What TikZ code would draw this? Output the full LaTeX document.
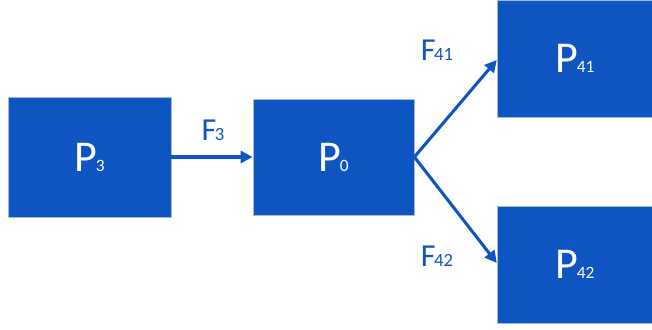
\documentclass[tikz,border=0pt]{standalone}
\usepackage{fontspec}
\setmainfont{Carlito}
\usetikzlibrary{arrows.meta}
\definecolor{boxblue}{HTML}{0E55C1}
\newcommand{\bigsub}[2]{#1\kern-1pt{\fontsize{14}{14}\selectfont #2}}
\newcommand{\smallsub}[2]{#1\kern-1pt{\fontsize{13}{13}\selectfont #2}}
\tikzset{
  block/.style={fill=boxblue, draw=boxblue!40, line width=0.3pt, inner sep=0pt,
    text=white, font=\fontsize{33}{33}\selectfont},
  flow/.style={draw=boxblue, line width=2.3pt, -{Triangle[length=9pt,width=9pt]}},
  flowlabel/.style={text=boxblue, font=\fontsize{24}{24}\selectfont}
}
\begin{document}
\begin{tikzpicture}[x=0.75pt,y=-0.75pt]
    \useasboundingbox (0,0) rectangle (652,329);
    \node[block, minimum width=122pt, minimum height=90pt] (p3) at (89.5,157) {\smallsub{P}{3}};
    \node[block, minimum width=121pt, minimum height=87pt] (p0) at (333.5,157) {\smallsub{P}{0}};
    \node[block, minimum width=117pt, minimum height=88pt] (p41) at (575,58.5) {\smallsub{P}{41}};
    \node[block, minimum width=117pt, minimum height=88pt] (p42) at (575,264.5) {\smallsub{P}{42}};
    \draw[flow] (p3.east) -- (p0.west);
    \draw[flow] (p0.east) -- (p41.west |- 0,60);
    \draw[flow] (p0.east) -- (p42.west |- 0,263);
    \node[flowlabel] (f3) at (213,130) {\bigsub{F}{3}};
    \node[flowlabel] (f41) at (437,50) {\bigsub{F}{41}};
    \node[flowlabel] (f42) at (437,256) {\bigsub{F}{42}};
  \end{tikzpicture}
\end{document}
